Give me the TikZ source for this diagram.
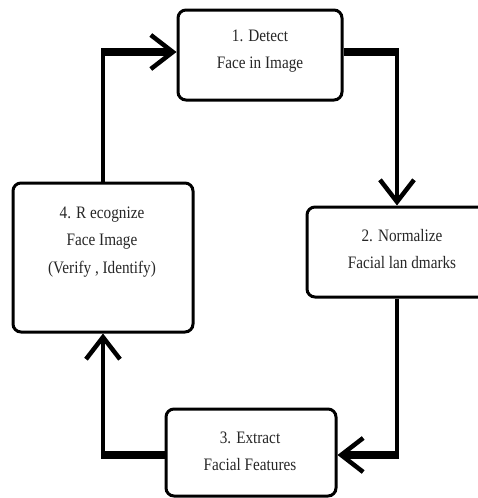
\documentclass[tikz,border=0pt]{standalone}
\usepackage{fontspec}
\setmainfont{Liberation Serif}
\newfontfamily\narrowserif[FakeStretch=0.87]{Liberation Serif}
\usetikzlibrary{arrows.meta}
\begin{document}
\begin{tikzpicture}[x=1pt,y=-1pt,
  stepbox/.style={draw, line width=3pt, rounded corners=8pt, inner sep=0pt},
  lbl/.style={text=black!85, font=\narrowserif\fontsize{17.5}{27.5}\selectfont, align=center, inner sep=0pt},
  vline/.style={line width=4pt},
  hline/.style={line width=8pt},
  tip/.style={-{Straight Barb[length=22pt,width=34pt,line width=4.5pt]}}
]
\useasboundingbox (0,0) rectangle (478,498);
% boxes
\node[stepbox, minimum width=164pt, minimum height=90pt] (b1) at (260,55) {};
\node[stepbox, minimum width=180pt, minimum height=90pt] (b2) at (397,252) {};
\node[stepbox, minimum width=170pt, minimum height=87pt] (b3) at (251,452.5) {};
\node[stepbox, minimum width=180pt, minimum height=149pt] (b4) at (103,257.5) {};
% labels
\node[lbl] (t1) at (260,51) {1. Detect\\Face in Image};
\node[lbl] (t2) at (402,249) {2. Normalize\\Facial lan dmarks};
\node[lbl] (t3) at (250,451.5) {3. Extract\\Facial Features};
\node[lbl] (t4) at (102,242) {4. R ecognize\\Face Image\\(Verify , Identify)};
% bend points
\coordinate (c12) at (397,52);
\coordinate (c23) at (397,455);
\coordinate (c34) at (103,455);
\coordinate (c41) at (103,52);
% connectors
\draw[hline] (b1.east |- c12) -- ([xshift=2pt]c12);
\draw[vline, tip] ([yshift=-4pt]c12) -- (b2.north -| c12);
\draw[vline] (b2.south -| c23) -- ([yshift=4pt]c23);
\draw[hline, tip] ([xshift=2pt]c23) -- (b3.east |- c23);
\draw[hline] (b3.west |- c34) -- ([xshift=-2pt]c34);
\draw[vline, tip] ([yshift=4pt]c34) -- (b4.south -| c34);
\draw[vline] (b4.north -| c41) -- ([yshift=-4pt]c41);
\draw[hline, tip] ([xshift=-2pt]c41) -- (b1.west |- c41);
\end{tikzpicture}
\end{document}
